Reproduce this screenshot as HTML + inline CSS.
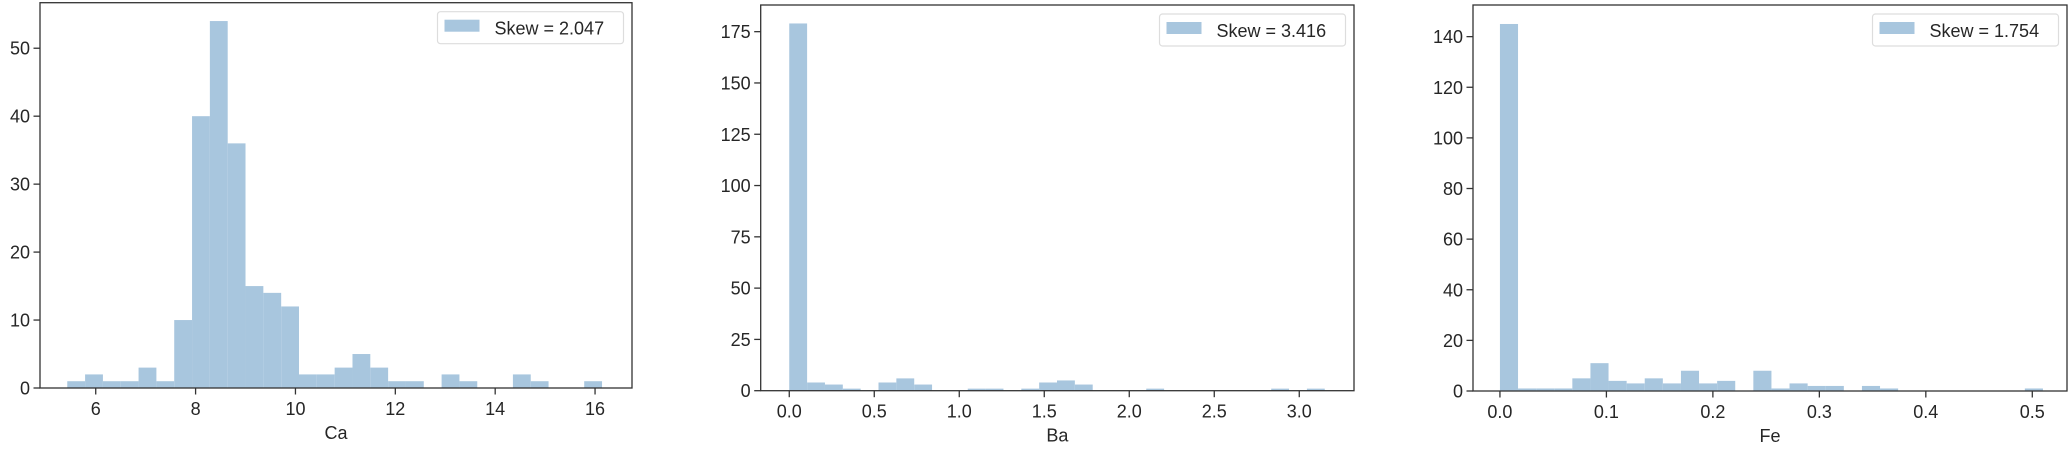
<!DOCTYPE html>
<html><head><meta charset="utf-8"><style>
html,body{margin:0;padding:0;background:#fff;}
svg{display:block;font-family:"Liberation Sans","DejaVu Sans",sans-serif;}
</style></head><body>
<svg id="chart" width="2072" height="454" viewBox="0 0 2072 454" xmlns="http://www.w3.org/2000/svg"></svg>
<script>
// Ca panel data
const caStart = 5.43;
const caWidth = 0.357;
const caCounts = [1,2,1,1,3,1,10,40,54,36,15,14,12,2,2,3,5,3,1,1,0,2,1,0,0,2,1,0,0,1];
const caXTicks = [6,8,10,12,14,16];
const caYTicks = [0,10,20,30,40,50];
const caLegend = "Skew = 2.047";
// Ba panel data
const baStart = 0;
const baWidth = 0.105;
const baCounts = [179,4,3,1,0,4,6,3,0,0,1,1,0,1,4,5,3,0,0,0,1,0,0,0,0,0,0,1,0,1];
const baXTicks = ["0.0","0.5","1.0","1.5","2.0","2.5","3.0"];
const baYTicks = [0,25,50,75,100,125,150,175];
const baLegend = "Skew = 3.416";
// Fe panel data
const feStart = 0;
const feWidth = 0.017;
const feCounts = [145,1,1,1,5,11,4,3,5,3,8,3,4,0,8,1,3,2,2,0,2,1,0,0,0,0,0,0,0,1];
const feXTicks = ["0.0","0.1","0.2","0.3","0.4","0.5"];
const feYTicks = [0,20,40,60,80,100,120,140];
const feLegend = "Skew = 1.754";

const NS = "http://www.w3.org/2000/svg";
const svg = document.getElementById("chart");
function mk(tag, attrs, parent){
  const e = document.createElementNS(NS, tag);
  for (const k in attrs) e.setAttribute(k, attrs[k]);
  (parent||svg).appendChild(e);
  return e;
}
const BAR = "rgb(168,198,222)";
const INK = "#262626";

function panel(cfg, start, width, counts, xticks, yticks, legendText, label){
  const g = mk("g", {});
  
  
  const L=cfg.left,R=cfg.right,T=cfg.top,B=cfg.bottom;
  const xs = v => L + (v - cfg.xmin) / (cfg.xmax - cfg.xmin) * (R - L);
  const ys = v => B - v / cfg.ymax * (B - T);
  counts.forEach((c,i)=>{
    if (c<=0) return;
    const x0 = xs(start + i*width), x1 = xs(start + (i+1)*width);
    const r = mk("rect",{x:x0,y:ys(c),width:x1-x0,height:B-ys(c),fill:BAR},g);
    
    
  });
  const frame = mk("rect",{x:L,y:T,width:R-L,height:B-T,fill:"none",stroke:"#333",'stroke-width':1.3},g);
  
  
  xticks.forEach(t=>{
    const x = xs(parseFloat(t));
    mk("line",{x1:x,x2:x,y1:B,y2:B+6.5,stroke:"#333",'stroke-width':1.3},g);
    const tx = mk("text",{x:x,y:B+27,'font-size':18,'text-anchor':'middle',fill:INK},g);
    tx.textContent = t;
    
    
  });
  yticks.forEach(t=>{
    const y = ys(t);
    mk("line",{x1:L-6.5,x2:L,y1:y,y2:y,stroke:"#333",'stroke-width':1.3},g);
    const tx = mk("text",{x:L-10,y:y+6.5,'font-size':18,'text-anchor':'end',fill:INK},g);
    tx.textContent = t;
    
    
  });
  const xl = mk("text",{x:(L+R)/2,y:B+51,'font-size':18,'text-anchor':'middle',fill:INK},g);
  xl.textContent = label;
  
  
  // legend
  const lg = mk("g",{},g);
  
  
  const lx = R - 8.5 - 186, ly = T + 9;
  mk("rect",{x:lx,y:ly,width:186,height:32,rx:3,fill:"#fff",stroke:"#ddd",'stroke-width':1.2},lg);
  mk("rect",{x:lx+7,y:ly+8,width:35,height:12,fill:BAR},lg);
  const lt = mk("text",{x:lx+57,y:ly+23,'font-size':18,fill:INK},lg);
  lt.textContent = legendText;
  
  
}

panel({left:40,right:632,top:2.7,bottom:388,xmin:4.884,xmax:16.74,ymax:56.7},
  caStart, caWidth, caCounts, caXTicks.map(String), caYTicks, caLegend, "Ca");
panel({left:760.7,right:1354,top:5,bottom:390.7,xmin:-0.168,xmax:3.322,ymax:188},
  baStart, baWidth, baCounts, baXTicks, baYTicks, baLegend, "Ba");
panel({left:1473,right:2067,top:5,bottom:391,xmin:-0.0253,xmax:0.5326,ymax:152.5},
  feStart, feWidth, feCounts, feXTicks, feYTicks, feLegend, "Fe");
</script>
</body></html>
